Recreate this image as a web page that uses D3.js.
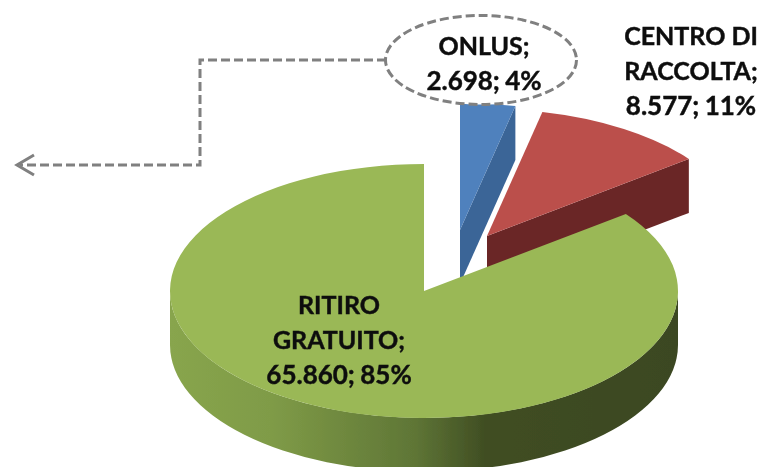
<!DOCTYPE html>
<html><head><meta charset="utf-8">
<script src="https://cdn.jsdelivr.net/npm/d3@7/dist/d3.min.js"></script>
<style>html,body{margin:0;background:#fff}svg{display:block}text{font-family:Lato,"Open Sans",sans-serif;font-weight:700;fill:#111;stroke:#111;stroke-width:.45px;text-anchor:middle}</style>
</head><body><svg id="c" width="760" height="467"></svg>
<script>
const categories = ["ONLUS", "CENTRO DI RACCOLTA", "RITIRO GRATUITO"];
const values = [2698, 8577, 65860];
const percents = [4, 11, 85];
const labelLines = [["ONLUS;"], ["CENTRO DI", "RACCOLTA;"], ["RITIRO", "GRATUITO;"]];

const topColors = ["#4f81bd", "#bb4f4c", "#9ab857"];
const sideColors = ["#3b6597", "#6b2726", null];
const centers = [[460, 230], [487, 236], [424, 291]];
const labelPos = [[484, 54.5], [691, 45], [339, 314]];
const rx = 254, ry = 127, depth = 54, lineGap = 35;

const svg = d3.select("#c");
const fmtN = d3.formatLocale({decimal: ",", thousands: ".", grouping: [3], currency: ["", ""]}).format(",d");
const arcs = d3.pie().sort(null)(values);
const arc = d3.arc().innerRadius(0).outerRadius(rx);
const yScale = ry / rx;

const defs = svg.append("defs");
const grad = defs.append("linearGradient").attr("id", "rim").attr("gradientUnits", "userSpaceOnUse")
  .attr("x1", 170).attr("x2", 678).attr("y1", 0).attr("y2", 0);
[[0, "#88a54d"], [0.2, "#7f9b47"], [0.48, "#5f7636"], [0.62, "#404e23"], [1, "#3b4721"]]
  .forEach(([o, c]) => grad.append("stop").attr("offset", o).attr("stop-color", c));
defs.append("filter").attr("id", "soft").append("feGaussianBlur").attr("stdDeviation", 0.45);

const g = svg.append("g").attr("filter", "url(#soft)");

// Cut faces of the exploded slices, behind their top faces
arcs.forEach((d, i) => {
  if (!sideColors[i]) return;
  const [cx, cy] = centers[i];
  const ex = cx + rx * Math.sin(d.endAngle), ey = cy - ry * Math.cos(d.endAngle);
  g.append("path").attr("fill", sideColors[i])
    .attr("d", `M${cx},${cy}L${ex},${ey}L${ex},${ey + depth}L${cx},${cy + depth}Z`);
});

// Rim of the large slice
const [gx, gy] = centers[2];
g.append("path").attr("fill", "url(#rim)")
  .attr("d", `M${gx - rx},${gy}L${gx - rx},${gy + depth}A${rx},${ry} 0 0 0 ${gx + rx},${gy + depth}L${gx + rx},${gy}A${rx},${ry} 0 0 1 ${gx - rx},${gy}Z`);

// Top faces
arcs.forEach((d, i) => {
  g.append("path").attr("fill", topColors[i]).attr("d", arc(d))
    .attr("transform", `translate(${centers[i][0]},${centers[i][1]}) scale(1,${yScale})`);
});

// Callout
const dash = {fill: "none", stroke: "#808080", "stroke-width": 3, "stroke-dasharray": "9 4"};
const callout = g.append("g");
callout.append("ellipse").attr("cx", 481).attr("cy", 60).attr("rx", 95.5).attr("ry", 44.5)
  .attr("fill", "#fff").attr("stroke", "#808080").attr("stroke-width", 3).attr("stroke-dasharray", "9 4");
const conn = callout.append("path").attr("d", "M386,60H200V165H20");
Object.entries(dash).forEach(([k, v]) => conn.attr(k, v));
callout.append("path").attr("d", "M34,155L17,165L34,175").attr("fill", "none")
  .attr("stroke", "#808080").attr("stroke-width", 3);

// Labels
const tg = svg.append("g").attr("filter", "url(#soft)");
arcs.forEach((d, i) => {
  labelLines[i].forEach((t, j) => {
    tg.append("text").attr("x", labelPos[i][0]).attr("y", labelPos[i][1] + j * lineGap)
      .attr("font-size", 25).text(t);
  });
  tg.append("text").attr("x", labelPos[i][0]).attr("y", labelPos[i][1] + labelLines[i].length * lineGap)
    .attr("font-size", 26).attr("word-spacing", -1).text(`${fmtN(values[i])}; ${percents[i]}%`);
});
</script></body></html>
